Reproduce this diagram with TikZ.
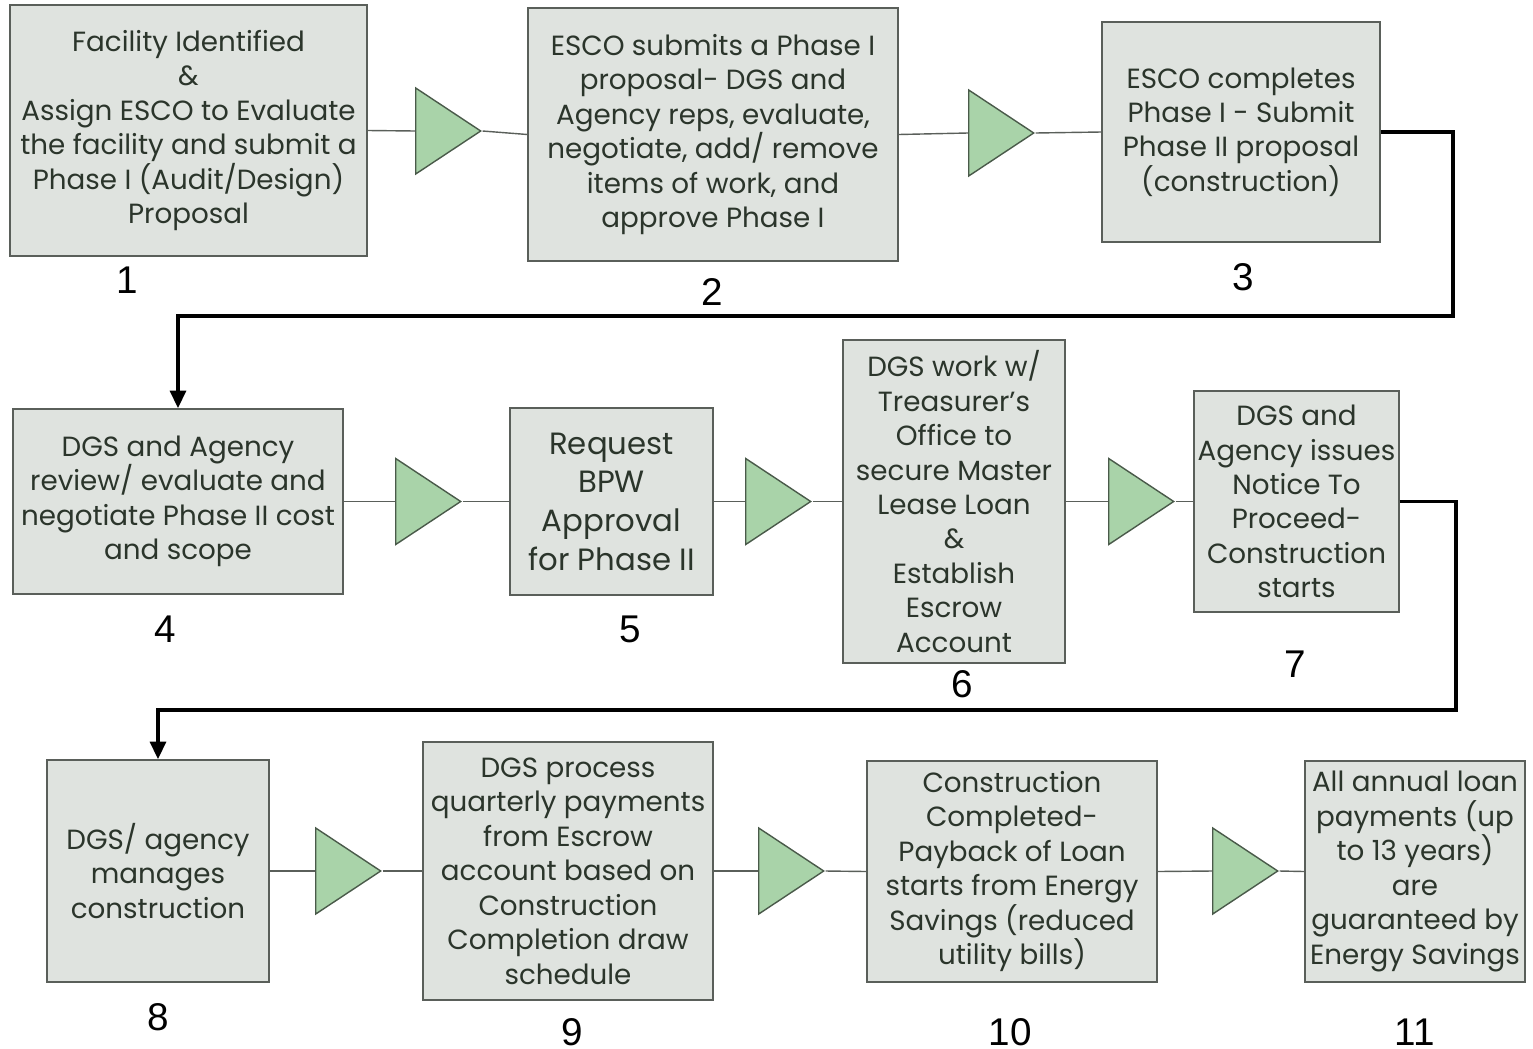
\documentclass[tikz,border=0pt]{standalone}
\usepackage{fontspec}
\setmainfont{Poppins}
\newfontfamily\numfont{Liberation Sans}
\usepackage{tikz}
\usetikzlibrary{calc}
\usetikzlibrary{shapes.geometric,arrows.meta}
\usepackage{xcolor}

\definecolor{boxfill}{HTML}{DFE3DF}
\definecolor{boxline}{HTML}{5A5F5A}
\definecolor{trifill}{HTML}{A9D3A9}
\definecolor{triline}{HTML}{4A5A4A}
\definecolor{txt}{HTML}{2B352B}

\tikzset{
  stepbox/.style={draw=boxline, fill=boxfill, line width=0.9pt, align=center,
    text=txt, inner sep=2pt, font=\fontsize{15.8}{19.6}\selectfont},
  bigtext/.style={font=\fontsize{17.5}{22}\selectfont},
  tri/.style={isosceles triangle, isosceles triangle stretches, draw=triline,
    fill=trifill, line width=0.8pt, inner sep=0pt, anchor=lower side,
    minimum width=1.72cm, minimum height=1.3cm},
  link/.style={draw=boxline, line width=0.8pt},
  rowlink/.style={line width=2pt, -{Triangle[width=9pt,length=10pt]}},
  num/.style={font=\numfont\fontsize{22}{24}\selectfont, text=black}
}

\begin{document}
\begin{tikzpicture}[x=0.02cm,y=-0.02cm]
% \draw[lightgray] (0,0) grid (1533,1048);
\useasboundingbox (0,0) rectangle (1533,1048);

% first row
\node[stepbox, minimum width=7.14cm, minimum height=5.02cm] (b1) at (188.5,130.5)
  {Facility Identified\\ \&\\ Assign ESCO to Evaluate\\ the facility and submit a\\ Phase I (Audit/Design)\\ Proposal};
\node[stepbox, minimum width=7.40cm, minimum height=5.06cm] (b2) at (713,134.5)
  {ESCO submits a Phase I\\ proposal- DGS and\\ Agency reps, evaluate,\\ negotiate, add/ remove\\ items of work, and\\ approve Phase I};
\node[stepbox, minimum width=5.56cm, minimum height=4.40cm] (b3) at (1241,132)
  {ESCO completes\\ Phase I - Submit\\ Phase II proposal\\ (construction)};

\node[tri] (t1) at (415,131) {};
\node[tri] (t2) at (968,133) {};

\node[num] (n1) at (127,280) {1};
\node[num] (n2) at (712,292) {2};
\node[num] (n3) at (1243,277) {3};

% second row
\node[stepbox, minimum width=6.60cm, minimum height=3.70cm] (b4) at (178,501.5)
  {DGS and Agency\\ review/ evaluate and\\ negotiate Phase II cost\\ and scope};
\node[stepbox, bigtext, minimum width=4.06cm, minimum height=3.74cm] (b5) at (611.5,501.5)
  {Request\\ BPW\\ Approval\\ for Phase II};
\node[stepbox, minimum width=4.44cm, minimum height=6.46cm] (b6) at (954,501.5)
  {DGS work w/\\ Treasurer's\\ Office to\\ secure Master\\ Lease Loan\\ \&\\ Establish\\ Escrow\\ Account};
\node[stepbox, minimum width=4.06cm, minimum height=4.42cm] (b7) at (1296.5,501.5)
  {DGS and\\ Agency issues\\ Notice To\\ Proceed-\\ Construction\\ starts};

\node[tri] (t3) at (395,501.5) {};
\node[tri] (t4) at (745,501.5) {};
\node[tri] (t5) at (1108,501.5) {};

\node[num] (n4) at (165,629) {4};
\node[num] (n5) at (630,629) {5};
\node[num] (n6) at (962,684) {6};
\node[num] (n7) at (1295,664) {7};

% third row
\node[stepbox, minimum width=4.44cm, minimum height=4.44cm] (b8) at (158,871)
  {DGS/ agency\\ manages\\ construction};
\node[stepbox, minimum width=5.80cm, minimum height=5.16cm] (b9) at (568,871)
  {DGS process\\ quarterly payments\\ from Escrow\\ account based on\\ Construction\\ Completion draw\\ schedule};
\node[stepbox, minimum width=5.80cm, minimum height=4.42cm] (b10) at (1012,871.5)
  {Construction\\ Completed-\\ Payback of Loan\\ starts from Energy\\ Savings (reduced\\ utility bills)};
\node[stepbox, minimum width=4.40cm, minimum height=4.42cm] (b11) at (1415,871.5)
  {All annual loan\\ payments (up\\ to 13 years)\\ are\\ guaranteed by\\ Energy Savings};

\node[tri] (t6) at (315,871) {};
\node[tri] (t7) at (758,871) {};
\node[tri] (t8) at (1212,871) {};

\node[num] (n8) at (158,1017) {8};
\node[num] (n9) at (572,1032) {9};
\node[num] (n10) at (1010,1032) {10};
\node[num] (n11) at (1415,1032) {11};

% links through the triangles
\draw[link] (b1.east) -- (t1.lower side);
\draw[link] (t1.apex) -- (b2.west);
\draw[link] (b2.east) -- (t2.lower side);
\draw[link] (t2.apex) -- (b3.west);

\draw[link] (b4.east) -- (t3.lower side);
\draw[link] (t3.apex) -- (b5.west);
\draw[link] (b5.east) -- (t4.lower side);
\draw[link] (t4.apex) -- (b6.west);
\draw[link] (b6.east) -- (t5.lower side);
\draw[link] (t5.apex) -- (b7.west);

\draw[link] (b8.east) -- (t6.lower side);
\draw[link] (t6.apex) -- (b9.west);
\draw[link] (b9.east) -- (t7.lower side);
\draw[link] (t7.apex) -- (b10.west);
\draw[link] (b10.east) -- (t8.lower side);
\draw[link] (t8.apex) -- (b11.west);

% row changes
\coordinate (c1) at (1453,316);
\coordinate (c2) at (1456,710);
\draw[rowlink] (b3.east) -| (c1) -| (b4.north);
\draw[rowlink] (b7.east) -| (c2) -| (b8.north);

\end{tikzpicture}
\end{document}
